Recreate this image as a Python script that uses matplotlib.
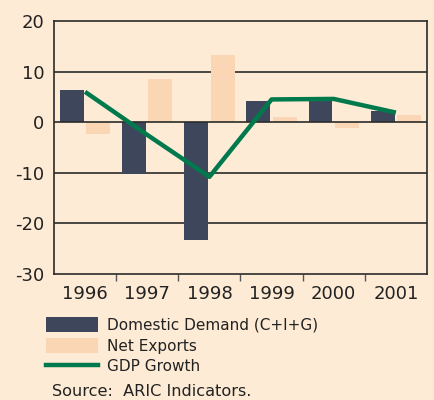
import matplotlib
matplotlib.use("Agg")
import matplotlib.pyplot as plt
import numpy as np
from matplotlib.patches import Patch
from matplotlib.lines import Line2D

years = ["1996", "1997", "1998", "1999", "2000", "2001"]
domestic_demand = [6.3, -10.3, -23.2, 4.2, 4.3, 2.2]
net_exports = [-2.4, 8.5, 13.2, 1.0, -1.1, 1.4]
gdp_growth = [6.0, -2.5, -10.8, 4.5, 4.6, 1.9]
yticks = [-30, -20, -10, 0, 10, 20]

bg = "#FEEBD6"
c_dd = "#3E465C"
c_ne = "#FAD6B4"
c_gdp = "#007A4D"
c_line = "#2B2B2B"

fig = plt.figure(figsize=(4.35, 4.0), dpi=100, facecolor=bg)
ax = fig.add_axes([0.1241, 0.315, 0.8575, 0.6325])
ax.set_facecolor(bg)

x = np.arange(len(years))
w = 0.385
ax.bar(x - 0.02 - w / 2, domestic_demand, width=w, color=c_dd, zorder=2)
ax.bar(x + 0.02 + w / 2, net_exports, width=w, color=c_ne, zorder=2)
ax.plot(x, gdp_growth, color=c_gdp, linewidth=3.2, solid_capstyle="butt", zorder=4)

ax.set_xlim(-0.5, len(years) - 0.5)
ax.set_ylim(-30, 20)
ax.set_yticks(yticks)
ax.set_yticklabels([str(v) for v in yticks])
for v in yticks:
    if v not in (-30, 20):
        ax.axhline(v, color=c_line, linewidth=1.2, zorder=1 if v != 0 else 3)

ax.set_xticks(x)
ax.set_xticklabels(years)
ax.set_xticks(np.arange(0.5, len(years) - 0.5, 1.0), minor=True)
ax.tick_params(axis="x", which="major", length=0, pad=8, labelsize=13, labelcolor="#222222")
ax.tick_params(axis="x", which="minor", length=5, width=1.0, color="#555555", direction="out")
ax.tick_params(axis="y", length=0, pad=7, labelsize=13, labelcolor="#222222")
for s in ax.spines.values():
    s.set_color(c_line)
    s.set_linewidth(1.2)

handles = [
    Patch(facecolor=c_dd, edgecolor="none"),
    Patch(facecolor=c_ne, edgecolor="none"),
    Line2D([0], [0], color=c_gdp, linewidth=3.2),
]
labels = ["Domestic Demand (C+I+G)", "Net Exports", "GDP Growth"]
fig.legend(handles, labels, loc="upper left", bbox_to_anchor=(0.105, 0.207),
           frameon=False, fontsize=11, handlelength=3.4, handleheight=1.1,
           handletextpad=0.6, labelspacing=0.35, borderaxespad=0, borderpad=0,
           labelcolor="#222222")

fig.text(0.12, 0.003, "Source:  ARIC Indicators.", fontsize=11.6, color="#222222",
         ha="left", va="bottom")

fig.savefig("out.png", dpi=100, facecolor=bg)
